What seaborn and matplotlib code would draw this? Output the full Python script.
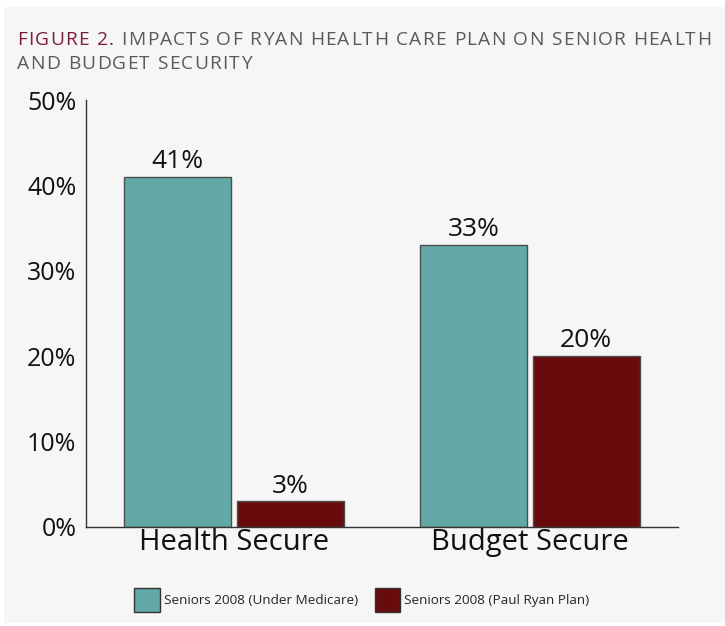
import matplotlib.pyplot as plt
import matplotlib.patches as mpatches
import pandas as pd
import seaborn as sns
from matplotlib.font_manager import FontProperties

sns.set_theme(style='white')
plt.rcParams['font.family'] = ['Open Sans', 'DejaVu Sans']

categories = ['Health Secure', 'Budget Secure']
series = ['Seniors 2008 (Under Medicare)', 'Seniors 2008 (Paul Ryan Plan)']
under_medicare = [41, 33]
ryan_plan = [3, 20]
colors = ['#62a8a6', '#680b0c']
yticks = [0, 10, 20, 30, 40, 50]
title_parts = [('FIGURE 2. ', '#7b1c3c'),
               ('IMPACTS OF RYAN HEALTH CARE PLAN ON SENIOR HEALTH', '#5a5a5a')]
title_line2 = 'AND BUDGET SECURITY'

df = pd.DataFrame({
    'category': categories * 2,
    'group': [series[0]] * 2 + [series[1]] * 2,
    'value': under_medicare + ryan_plan,
})

W, H = 725, 626
fig = plt.figure(figsize=(W / 100, H / 100), dpi=100, facecolor='white')
# light grey panel behind everything
fig.patches.append(mpatches.Rectangle((4 / W, 3 / H), 1, 1 - 10 / H,
                                      transform=fig.transFigure,
                                      facecolor='#f6f6f6', edgecolor='none',
                                      zorder=-10))
ax = fig.add_axes([86 / W, 1 - 527 / H, 592 / W, 427 / H])
ax.patch.set_alpha(0)

sns.barplot(data=df, x='category', y='value', hue='group',
            palette=colors, width=0.76, gap=0.05,
            edgecolor='#4d4d4d', linewidth=1, saturation=1,
            legend=False, ax=ax)

for container in ax.containers:
    ax.bar_label(container, labels=[f'{v:.0f}%' for v in container.datavalues],
                 fontsize=19, color='#111111', padding=2)

ax.set_xlim(-0.5, 1.5)
ax.set_ylim(0, 50)
ax.set_yticks(yticks)
ax.set_yticklabels([f'{t}%' for t in yticks], fontsize=18, color='#111111')
ax.tick_params(axis='y', length=0, pad=7)
ax.tick_params(axis='x', length=0, pad=1, labelsize=21, labelcolor='#111111')
ax.set_xlabel('')
ax.set_ylabel('')
for side in ['top', 'right']:
    ax.spines[side].set_visible(False)
for side in ['left', 'bottom']:
    ax.spines[side].set_color('#333333')
    ax.spines[side].set_linewidth(1)

# title with letter spacing, drawn glyph by glyph
fig.canvas.draw()
renderer = fig.canvas.get_renderer()
TSIZE = 13.8
prop = FontProperties(family=['Open Sans', 'DejaVu Sans'], size=TSIZE)
bar_w = renderer.get_text_width_height_descent('|', prop, ismath=False)[0]


def advance(s):
    w = renderer.get_text_width_height_descent(s + '|', prop, ismath=False)[0]
    return w - bar_w


def tracked(x, y, text, color, track=1.3):
    for i, ch in enumerate(text):
        fig.text((x + advance(text[:i]) + i * track) / W, 1 - y / H, ch,
                 fontsize=TSIZE, color=color, ha='left', va='baseline')
    return x + advance(text) + len(text) * track


x = 17
for text, color in title_parts:
    x = tracked(x, 45, text, color)
tracked(17, 69, title_line2, '#5a5a5a')

handles = [mpatches.Patch(facecolor=c, edgecolor='#333333', linewidth=1)
           for c in colors]
fig.legend(handles, series, loc='center', bbox_to_anchor=(362 / W, 1 - 600 / H),
           ncol=2, frameon=False, fontsize=9.7, handlelength=1.91,
           handleheight=2.27, handletextpad=0.31, columnspacing=1.2)

plt.savefig('out.png', dpi=100, facecolor=fig.get_facecolor())
